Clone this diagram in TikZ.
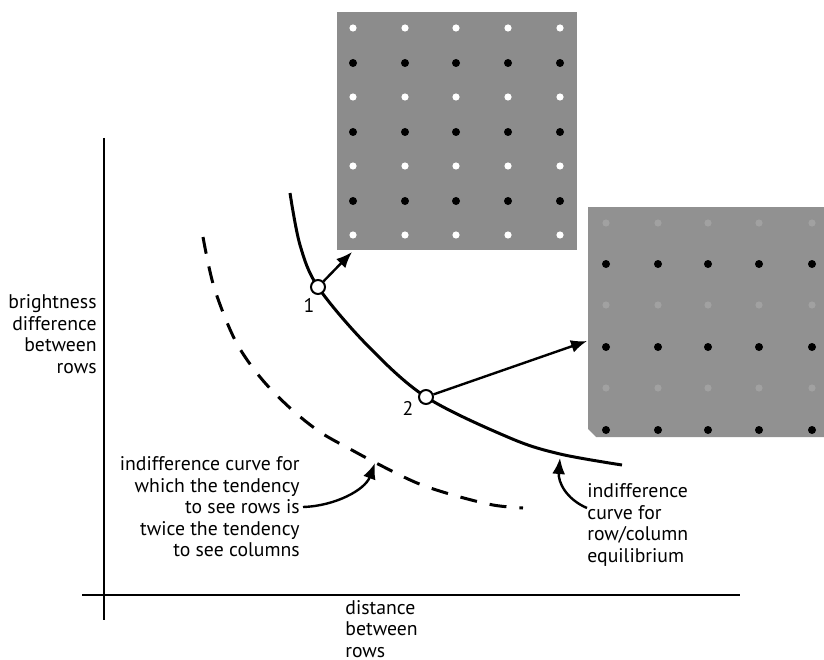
\documentclass[tikz,border=0pt]{standalone}
\usepackage{fontspec}
\setmainfont{PT Sans}
\usetikzlibrary{arrows.meta}

\begin{document}
\begin{tikzpicture}[x=0.5bp, y=-0.5bp,
  axis/.style={line width=1bp},
  curve/.style={line width=1.5bp},
  pt/.style={circle, draw=black, fill=white, line width=1bp, minimum size=7bp, inner sep=0pt},
  lbl/.style={font=\fontsize{9.9}{10.8}\selectfont, inner sep=0pt},
  pointer/.style={line width=1.2bp, -{Latex[length=8bp,width=6.5bp]}}]
\useasboundingbox (0,0) rectangle (824,660);
% axes
\coordinate (Ytop) at (104,138);
\coordinate (Ybot) at (104,620);
\coordinate (Xleft) at (82,595);
\coordinate (Xright) at (740,595);
\draw[axis] (Ytop) -- (Ybot);
\draw[axis] (Xleft) -- (Xright);
% dot lattices
\fill[black!45] (337,12) rectangle (577,250);
\foreach \x in {353,405,456,508,560} {
  \foreach \y in {28,97,166,235} \fill[white] (\x,\y) circle (1.8bp);
  \foreach \y in {63,132,201} \fill[black] (\x,\y) circle (2bp);
}
\fill[black!43] (588,207) -- (824,207) -- (824,437) -- (596,437) -- (588,429) -- cycle;
\foreach \x in {606,658,708,759,812} {
  \foreach \y in {223,305,388} \fill[black!37] (\x,\y) circle (1.8bp);
  \foreach \y in {264,347,430} \fill[black] (\x,\y) circle (2bp);
}
% indifference curves
\draw[curve] plot[smooth, tension=0.55] coordinates {(290,193) (300,245) (318,287) (367,345) (426,397) (510,438) (560,454) (622,465)};
\draw[curve, dash pattern=on 8.5bp off 6.5bp] plot[smooth, tension=0.55] coordinates {(203,237) (214,287) (235,340) (260,377) (290,408) (320,432) (350,449) (378,464) (417,483) (453,495) (493,505) (523,508)};
% points
\node[pt] (Pt1) at (318,287) {};
\node[pt] (Pt2) at (426,397) {};
\node[lbl] (One) at (309,305) {1};
\node[lbl] (Two) at (408,408) {2};
\coordinate (Tip1) at (352,252);
\coordinate (Tip2) at (587,341);
\draw[pointer] (Pt1) -- (Tip1);
\draw[pointer] (Pt2) -- (Tip2);
% labels
\node[lbl, align=right, anchor=east] (Ylab) at (97,334) {brightness\\difference\\between\\rows};
\node[lbl, align=left, anchor=west] (Xlab) at (345,629) {distance\\between\\rows};
\node[lbl, align=right, anchor=east, inner sep=1.5bp] (Note2) at (303,507) {indifference curve for\\which the tendency\\to see rows is\\twice the tendency\\to see columns};
\node[lbl, align=left, anchor=west] (Note1) at (587,525) {indifference\\curve for\\row/column\\equilibrium};
\coordinate (TipC) at (375,463);
\coordinate (TailD) at (587,508);
\coordinate (TipD) at (560,458);
\draw[pointer] (Note2.east) .. controls (335,506) and (365,490) .. (TipC);
\draw[pointer] (TailD) .. controls (566,499) and (558,482) .. (TipD);
\end{tikzpicture}
\end{document}
